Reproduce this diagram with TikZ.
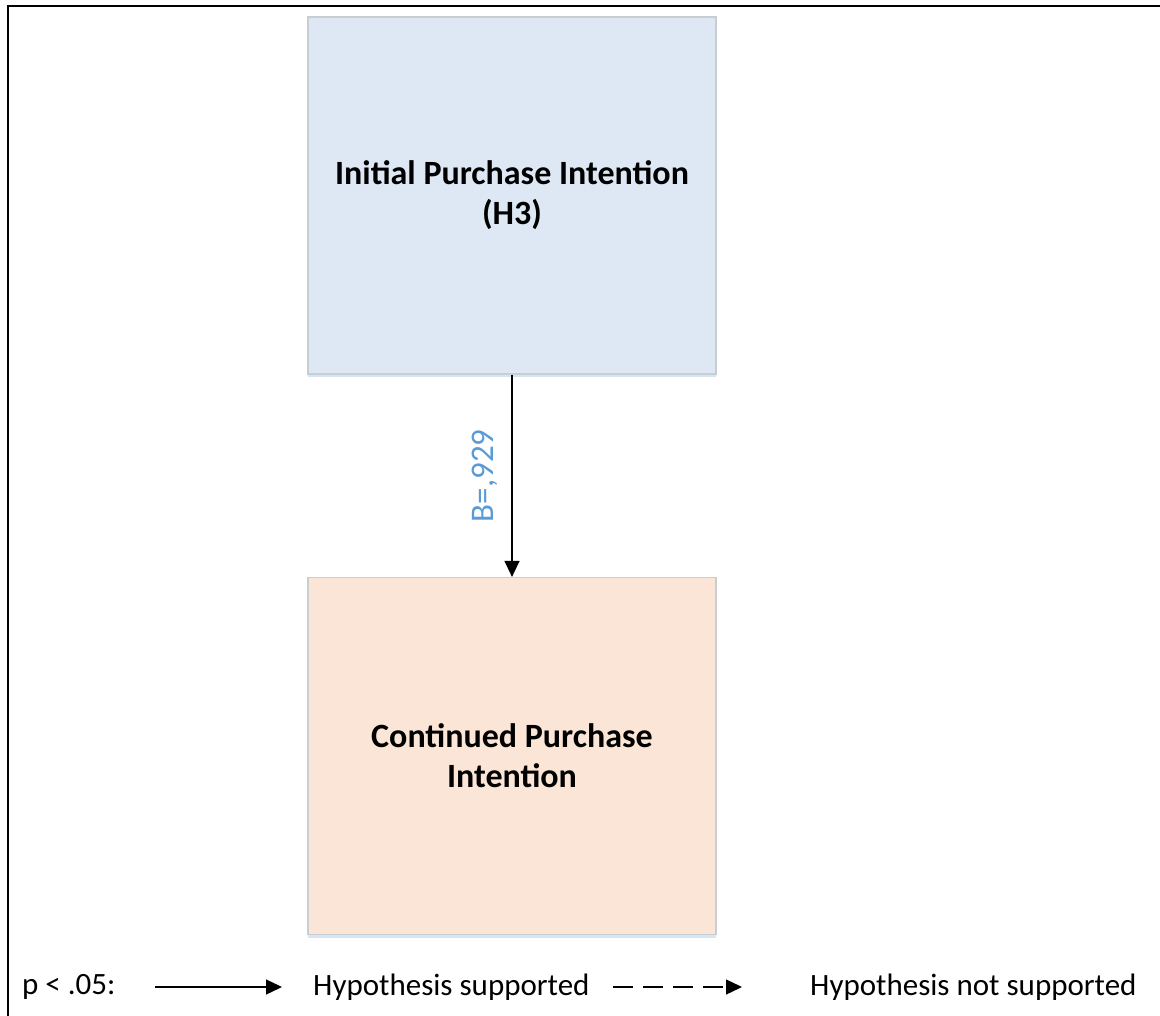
\documentclass[tikz,border=0pt]{standalone}
\usepackage{fontspec}
\setmainfont{Carlito}
\usetikzlibrary{arrows.meta,shadows}
\definecolor{boxblue}{RGB}{222,232,245}
\definecolor{boxpeach}{RGB}{251,229,214}
\definecolor{boxedge}{RGB}{200,205,210}
\definecolor{labblue}{RGB}{91,155,213}
\begin{document}
\begin{tikzpicture}[x=1pt,y=-1pt,
  varbox/.style={draw=boxedge,line width=1.2pt,minimum width=408pt,minimum height=357pt,
    align=center,font=\fontsize{34}{40}\selectfont\bfseries,inner sep=0pt,
    drop shadow={shadow xshift=0pt,shadow yshift=-3pt,opacity=0.25,fill=labblue}},
  legtext/.style={font=\fontsize{31}{34}\selectfont,anchor=west,inner sep=0pt},
  conn/.style={line width=1.3pt,-{Triangle[length=16pt,width=15pt]}}]
\useasboundingbox (0,0) rectangle (1160,1016);
\fill[white] (0,0) rectangle (1160,1016);
\draw[line width=2.5pt] (8,1016) -- (8,6) -- (1160,6);
\node[varbox,fill=boxblue] (ipi) at (512,195.5) {Initial Purchase Intention\\(H3)};
\node[varbox,fill=boxpeach] (cpi) at (512,756) {Continued Purchase\\Intention};
\draw[conn] (ipi.south) -- node[pos=0.5,left=14pt,rotate=90,anchor=south,text=labblue,font=\fontsize{33}{36}\selectfont,inner sep=0pt] (lab) {B=,929} (cpi.north);
\node[legtext] (p) at (22,987) {p < .05:};
\coordinate (s1) at (155,987);
\coordinate (s2) at (282,987);
\draw[conn] (s1) -- (s2);
\node[legtext] (hs) at (313,987) {Hypothesis supported};
\coordinate (d1) at (613,987);
\coordinate (d2) at (742,987);
\draw[conn,dash pattern=on 20pt off 10pt] (d1) -- (d2);
\node[legtext] (hns) at (810,987) {Hypothesis not supported};
\end{tikzpicture}
\end{document}
